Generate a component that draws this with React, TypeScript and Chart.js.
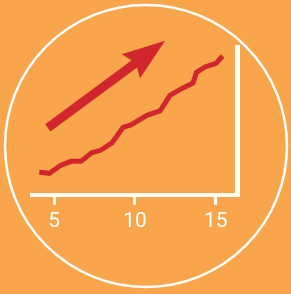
import React, { useEffect, useRef } from "react";
import { Chart, registerables } from "chart.js";

Chart.register(...registerables);

// ---- data ----
const xTickValues = [5, 10, 15];
const trendX = [4.08, 4.71, 5.36, 6.04, 6.66, 7.31, 7.87, 8.58, 9.26, 9.75, 10.74, 11.55, 12.16, 12.91, 13.59, 13.8, 14.33, 15.01, 15.42];
const trendY = [1.53, 1.46, 1.97, 2.27, 2.27, 2.85, 3.02, 3.53, 4.58, 4.75, 5.39, 5.69, 6.75, 7.22, 7.59, 8.31, 8.68, 8.92, 9.42];
const arrowShaftX = [4.61, 10.05];
const arrowShaftY = [4.54, 8.95];
const arrowHeadX = [11.86, 9.18, 10.05, 10.31];
const arrowHeadY = [10.46, 9.54, 8.95, 7.91];

const ORANGE = "#F9A54B";
const RED = "#D2262E";
const WHITE = "#FFFFFF";

const backgroundPlugin = {
  id: "badgeBackground",
  beforeDraw(chart: any) {
    const { ctx, width, height } = chart;
    ctx.save();
    ctx.fillStyle = ORANGE;
    ctx.fillRect(0, 0, width, height);
    ctx.beginPath();
    ctx.arc(146, 146, 141, 0, Math.PI * 2);
    ctx.strokeStyle = WHITE;
    ctx.lineWidth = 2.5;
    ctx.stroke();
    ctx.restore();
  },
};

const arrowHeadPlugin = {
  id: "arrowHead",
  afterDatasetsDraw(chart: any) {
    const { ctx } = chart;
    const xs = chart.scales.x;
    const ys = chart.scales.y;
    ctx.save();
    ctx.beginPath();
    arrowHeadX.forEach((v, i) => {
      const px = xs.getPixelForValue(v);
      const py = ys.getPixelForValue(arrowHeadY[i]);
      if (i === 0) ctx.moveTo(px, py);
      else ctx.lineTo(px, py);
    });
    ctx.closePath();
    ctx.fillStyle = RED;
    ctx.fill();
    ctx.restore();
  },
};

export default function App() {
  const canvasRef = useRef<HTMLCanvasElement | null>(null);

  useEffect(() => {
    if (!canvasRef.current) return;
    const chart = new Chart(canvasRef.current, {
      type: "line",
      data: {
        datasets: [
          {
            data: trendX.map((x, i) => ({ x, y: trendY[i] })),
            borderColor: RED,
            borderWidth: 5,
            borderJoinStyle: "miter",
            borderCapStyle: "butt",
            pointRadius: 0,
            tension: 0,
            fill: false,
            clip: false as any,
          },
          {
            data: arrowShaftX.map((x, i) => ({ x, y: arrowShaftY[i] })),
            borderColor: RED,
            borderWidth: 9,
            borderCapStyle: "butt",
            pointRadius: 0,
            tension: 0,
            fill: false,
            clip: false as any,
          },
        ],
      },
      options: {
        animation: false,
        responsive: true,
        maintainAspectRatio: false,
        events: [],
        layout: { padding: { left: 32, right: 53.5, top: 47.5, bottom: 56 } },
        plugins: { legend: { display: false }, tooltip: { enabled: false }, title: { display: false } },
        scales: {
          x: {
            type: "linear",
            min: 3.63,
            max: 16.34,
            afterBuildTicks: (scale: any) => {
              scale.ticks = xTickValues.map((v) => ({ value: v }));
            },
            border: { display: true, color: WHITE, width: 4 },
            grid: {
              drawOnChartArea: false,
              drawTicks: true,
              tickLength: 10,
              tickWidth: 3,
              tickColor: WHITE,
              lineWidth: 5,
              color: WHITE,
            },
            ticks: {
              color: WHITE,
              padding: 4,
              font: { family: "Roboto", size: 21, weight: "400" as any },
              maxRotation: 0,
              autoSkip: false,
            },
          },
          y: {
            type: "linear",
            position: "right",
            min: 0,
            max: 10,
            border: { display: true, color: WHITE, width: 5 },
            grid: { drawOnChartArea: false, drawTicks: false, lineWidth: 5, color: WHITE },
            ticks: { display: false },
          },
        },
      },
      plugins: [backgroundPlugin, arrowHeadPlugin],
    });
    return () => chart.destroy();
  }, []);

  return (
    <div style={{ position: "fixed", left: 0, top: 0, width: 291, height: 294, background: ORANGE }}>
      <canvas ref={canvasRef} />
    </div>
  );
}
